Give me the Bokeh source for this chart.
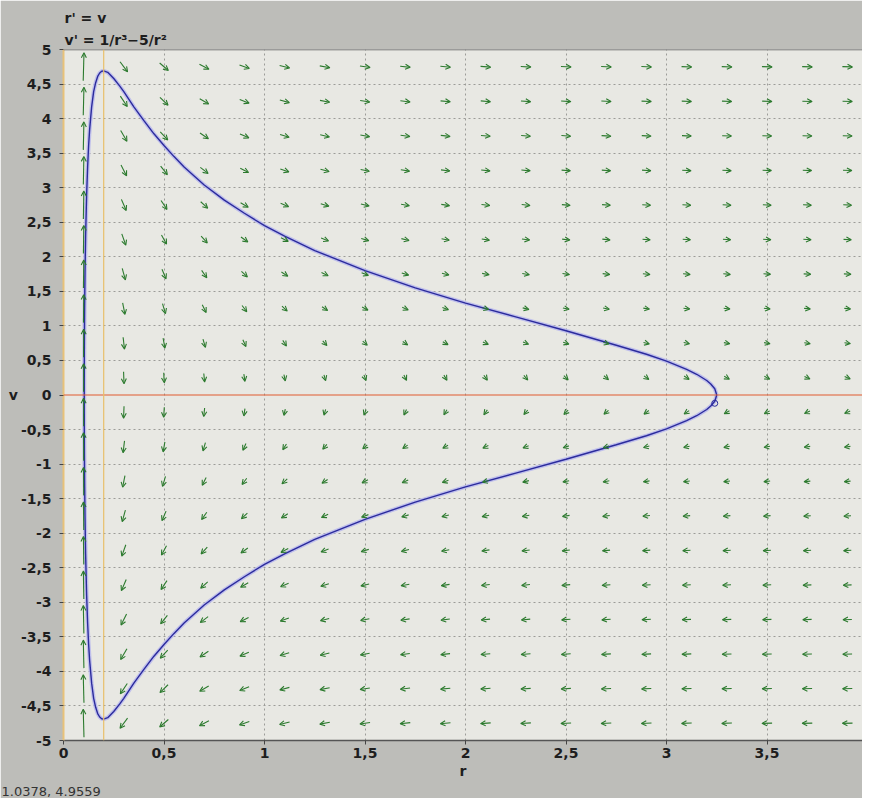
import numpy as np
from bokeh.plotting import figure
from bokeh.models import (Arrow, OpenHead, ColumnDataSource, Span, Title,
                          FixedTicker, Range1d)
from bokeh.embed import file_html
from bokeh.resources import INLINE

# ---- data ----
x_ticks = [0, 0.5, 1, 1.5, 2, 2.5, 3, 3.5]
x_tick_labels = ["0", "0,5", "1", "1,5", "2", "2,5", "3", "3,5"]
y_ticks = [-5, -4.5, -4, -3.5, -3, -2.5, -2, -1.5, -1, -0.5, 0,
           0.5, 1, 1.5, 2, 2.5, 3, 3.5, 4, 4.5, 5]
y_tick_labels = ["-5", "-4,5", "-4", "-3,5", "-3", "-2,5", "-2", "-1,5", "-1", "-0,5", "0",
                 "0,5", "1", "1,5", "2", "2,5", "3", "3,5", "4", "4,5", "5"]

# direction-field sample grid
field_r = [0.1, 0.3, 0.5, 0.7, 0.9, 1.1, 1.3, 1.5, 1.7, 1.9,
           2.1, 2.3, 2.5, 2.7, 2.9, 3.1, 3.3, 3.5, 3.7, 3.9]
field_v = [-4.75, -4.25, -3.75, -3.25, -2.75, -2.25, -1.75, -1.25, -0.75, -0.25,
           0.25, 0.75, 1.25, 1.75, 2.25, 2.75, 3.25, 3.75, 4.25, 4.75]

# trajectory, upper branch (from the nose at r~3.25 to the left turning point r~0.103)
traj_r_upper = [3.25, 3.24, 3.22, 3.2, 3.15, 3.1, 3.0, 2.9, 2.75, 2.5, 2.25, 2.0,
                1.75, 1.5, 1.25, 1.1, 1.0, 0.9, 0.8, 0.7, 0.65, 0.6, 0.55, 0.5,
                0.45, 0.4, 0.35, 0.3, 0.28, 0.25, 0.22, 0.2, 0.19, 0.18, 0.17, 0.16,
                0.15, 0.14, 0.13, 0.125, 0.12, 0.115, 0.11, 0.107, 0.105, 0.104,
                0.1035, 0.1032]
traj_v_upper = [0.0, 0.09, 0.16, 0.21, 0.30, 0.37, 0.49, 0.59, 0.72, 0.93, 1.13, 1.33,
                1.55, 1.80, 2.09, 2.30, 2.45, 2.63, 2.82, 3.04, 3.17, 3.30, 3.45, 3.61,
                3.78, 3.97, 4.17, 4.39, 4.47, 4.58, 4.67, 4.69, 4.685, 4.66, 4.61, 4.52,
                4.39, 4.17, 3.84, 3.61, 3.30, 2.89, 2.30, 1.77, 1.25, 0.85,
                0.54, 0.0]
# lower branch (from the left turning point back to the nose)
traj_r_lower = [0.1032, 0.1035, 0.104, 0.105, 0.107, 0.11, 0.115, 0.12, 0.125, 0.13,
                0.14, 0.15, 0.16, 0.17, 0.18, 0.19, 0.2, 0.22, 0.25, 0.28, 0.3, 0.35,
                0.4, 0.45, 0.5, 0.55, 0.6, 0.65, 0.7, 0.8, 0.9, 1.0, 1.1, 1.25, 1.5,
                1.75, 2.0, 2.25, 2.5, 2.75, 2.9, 3.0, 3.1, 3.15, 3.2, 3.22, 3.24, 3.25]
traj_v_lower = [0.0, -0.54, -0.85, -1.25, -1.77, -2.30, -2.89, -3.30, -3.61, -3.84,
                -4.17, -4.39, -4.52, -4.61, -4.66, -4.685, -4.69, -4.67, -4.58, -4.47,
                -4.39, -4.17, -3.97, -3.78, -3.61, -3.45, -3.30, -3.17, -3.04, -2.82,
                -2.63, -2.45, -2.30, -2.09, -1.80, -1.55, -1.33, -1.13, -0.93, -0.72,
                -0.59, -0.49, -0.37, -0.30, -0.21, -0.16, -0.09, 0.0]
start_r = [3.24]
start_v = [-0.12]

# ---- figure ----
X0, X1 = 0.0, 3.975
Y0, Y1 = -5.0, 5.0
FW, FH = 799, 691

p = figure(frame_width=FW, frame_height=FH, output_backend="svg",
           toolbar_location=None, title=None,
           x_range=Range1d(X0, X1), y_range=Range1d(Y0, Y1),
           min_border_left=63, min_border_right=0, min_border_top=49,
           min_border_bottom=44)
p.background_fill_color = "#e8e8e3"
p.border_fill_color = "#bdbdb9"
p.outline_line_color = None

for ax, ticks, labels in ((p.xaxis[0], x_ticks, x_tick_labels),
                          (p.yaxis[0], y_ticks, y_tick_labels)):
    ax.ticker = FixedTicker(ticks=ticks)
    ax.major_label_overrides = {t: l for t, l in zip(ticks, labels)}
    ax.major_label_text_font = "DejaVu Sans"
    ax.major_label_text_font_style = "bold"
    ax.major_label_text_font_size = "14px"
    ax.major_label_text_color = "#1e1e1e"
    ax.major_tick_in = 0
    ax.major_tick_out = 4
    ax.minor_tick_in = 0
    ax.minor_tick_out = 0
    ax.major_tick_line_color = "#444444"
    ax.axis_label_text_font = "DejaVu Sans"
    ax.axis_label_text_font_style = "bold"
    ax.axis_label_text_font_size = "14px"
    ax.axis_label_text_color = "#1e1e1e"
p.xaxis.axis_line_color = "#555555"
p.xaxis.axis_line_width = 1.5
p.yaxis.axis_line_color = "#e8c27a"
p.yaxis.axis_line_width = 2
p.xaxis.major_label_standoff = 3
p.yaxis.major_label_standoff = 8
p.xaxis.axis_label = "r"
p.xaxis.axis_label_standoff = 2
p.yaxis.axis_label = "v"
p.yaxis.axis_label_orientation = "horizontal"
p.yaxis.axis_label_standoff = 0

p.xgrid.ticker = FixedTicker(ticks=x_ticks[1:])
p.ygrid.ticker = FixedTicker(ticks=[t for t in y_ticks if t not in (-5, 5, 0)])
for g in (p.xgrid, p.ygrid):
    g.grid_line_color = "#9c9c98"
    g.grid_line_dash = "2 3"
    g.grid_line_width = 1

# top frame line
p.add_layout(Span(location=5, dimension="width", line_color="#555555", line_width=1.5))

# nullclines
p.add_layout(Span(location=0, dimension="width", line_color="#e05a30", line_width=1.2))
p.add_layout(Span(location=0.2, dimension="height", line_color="#e8bf6a", line_width=1.2))

# direction field (r' = v, v' = 1/r^3 - 5/r^2), arrows drawn in screen proportion
sx = FW / (X1 - X0)
sy = FH / (Y1 - Y0)
x0s, y0s, x1s, y1s = [], [], [], []
for r in field_r:
    for v in field_v:
        dr = v
        dv = 1.0 / r**3 - 5.0 / r**2
        px, py = dr * sx, dv * sy
        n = np.hypot(px, py)
        m = np.hypot(dr / (X1 - X0), dv / (Y1 - Y0))
        L = min(28.0, max(6.0, 9.5 * m ** 0.36))
        ux, uy = px / n, py / n
        hx, hy = 0.5 * L * ux / sx, 0.5 * L * uy / sy
        x0s.append(r - hx); y0s.append(v - hy)
        x1s.append(r + hx); y1s.append(v + hy)
arrow_src = ColumnDataSource(dict(x0=x0s, y0=y0s, x1=x1s, y1=y1s))
p.add_layout(Arrow(end=OpenHead(size=5, line_color="#2c7a2e", line_width=1.1),
                   x_start="x0", y_start="y0", x_end="x1", y_end="y1",
                   source=arrow_src, line_color="#2c7a2e", line_width=1.1))

# trajectory
tr = traj_r_upper + traj_r_lower
tv = traj_v_upper + traj_v_lower
p.line(tr, tv, line_color="#b4b4ee", line_width=4, line_alpha=0.8)
p.line(tr, tv, line_color="#2b2b9c", line_width=1.4)
p.scatter(start_r, start_v, marker="circle", size=6, fill_color=None,
          line_color="#2b2b9c", line_width=1)

# equations above the plot (first added = nearest the frame)
p.add_layout(Title(text="v' = 1/r\u00b3\u22125/r\u00b2", align="left",
                   text_font="DejaVu Sans", text_font_style="bold",
                   text_font_size="14px", text_color="#1e1e1e",
                   standoff=4, offset=1), "above")
p.add_layout(Title(text="r' = v", align="left",
                   text_font="DejaVu Sans", text_font_style="bold",
                   text_font_size="14px", text_color="#1e1e1e",
                   standoff=3, offset=1), "above")
# cursor read-out under the plot
p.add_layout(Title(text="1.0378, 4.9559", align="left",
                   text_font="DejaVu Sans", text_font_style="normal",
                   text_font_size="13px", text_color="#333333",
                   standoff=0, offset=-62), "below")

open("out.html", "w").write(file_html(p, INLINE))
